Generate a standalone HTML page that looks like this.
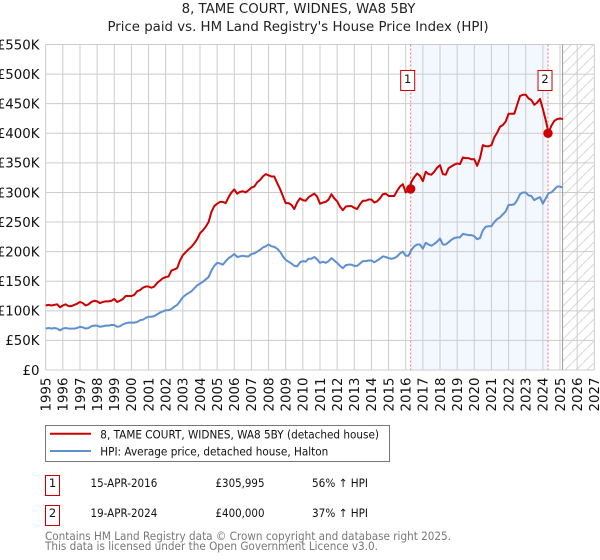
<!DOCTYPE html>
<html>
<head>
<meta charset="utf-8">
<style>
html,body{margin:0;padding:0;background:#fff}
svg{display:block;font-family:"DejaVu Sans","Liberation Sans",sans-serif}
</style>
</head>
<body>
<svg id="chart" xmlns="http://www.w3.org/2000/svg" width="600" height="560" viewBox="0 0 600 560">
  <defs>
    <pattern id="hatch" patternUnits="userSpaceOnUse" width="11" height="11">
      <path d="M-1,12 L12,-1" stroke="#d8d8d8" stroke-width="1" fill="none"/>
    </pattern>
  </defs>
  <rect width="600" height="560" fill="#fff"/>
  <text x="298.5" y="13" font-size="13.33" text-anchor="middle" fill="#222">8, TAME COURT, WIDNES, WA8 5BY</text>
  <text x="298" y="31" font-size="13.33" text-anchor="middle" fill="#222">Price paid vs. HM Land Registry's House Price Index (HPI)</text>
  <g id="plot"></g>

  <g>
    <rect x="45.5" y="425.5" width="344" height="36" fill="#fff" stroke="#777" stroke-width="1"/>
    <line x1="50" x2="91" y1="433.8" y2="433.8" stroke="#cc0000" stroke-width="2"/>
    <text x="100.3" y="438.5" font-size="11.5" fill="#111" textLength="278.7" lengthAdjust="spacingAndGlyphs">8, TAME COURT, WIDNES, WA8 5BY (detached house)</text>
    <line x1="50" x2="91" y1="451" y2="451" stroke="#5e8fd0" stroke-width="2"/>
    <text x="100.3" y="455.5" font-size="11.5" fill="#111" textLength="228" lengthAdjust="spacingAndGlyphs">HPI: Average price, detached house, Halton</text>
  </g>

  <g font-size="11.5" fill="#111">
    <rect x="45.5" y="475.5" width="14" height="20" fill="#fff" stroke="#cc0000" stroke-width="1"/>
    <text x="52.5" y="487" text-anchor="middle">1</text>
    <text x="90.5" y="487" textLength="66.8" lengthAdjust="spacingAndGlyphs">15-APR-2016</text>
    <text x="215.5" y="487" textLength="49" lengthAdjust="spacingAndGlyphs">£305,995</text>
    <text x="312" y="487" textLength="56" lengthAdjust="spacingAndGlyphs">56% ↑ HPI</text>
    <rect x="45.5" y="505.5" width="14" height="20" fill="#fff" stroke="#cc0000" stroke-width="1"/>
    <text x="52.5" y="517" text-anchor="middle">2</text>
    <text x="90.5" y="517" textLength="66.8" lengthAdjust="spacingAndGlyphs">19-APR-2024</text>
    <text x="215.5" y="517" textLength="49" lengthAdjust="spacingAndGlyphs">£400,000</text>
    <text x="312" y="517" textLength="56" lengthAdjust="spacingAndGlyphs">37% ↑ HPI</text>
  </g>

  <text x="45" y="540" font-size="11.5" fill="#777" textLength="406" lengthAdjust="spacingAndGlyphs">Contains HM Land Registry data © Crown copyright and database right 2025.</text>
  <text x="45" y="550" font-size="11.5" fill="#777" textLength="333" lengthAdjust="spacingAndGlyphs">This data is licensed under the Open Government Licence v3.0.</text>
</svg>

<script>
// Chart data (values in £ thousands, sampled six times a year from 1995)
var yTickValues = [0, 50, 100, 150, 200, 250, 300, 350, 400, 450, 500, 550];
var yTickLabels = ['£0', '£50K', '£100K', '£150K', '£200K', '£250K', '£300K', '£350K', '£400K', '£450K', '£500K', '£550K'];
var xTickYears = [1995, 1996, 1997, 1998, 1999, 2000, 2001, 2002, 2003, 2004, 2005, 2006, 2007, 2008, 2009, 2010, 2011, 2012, 2013, 2014, 2015, 2016, 2017, 2018, 2019, 2020, 2021, 2022, 2023, 2024, 2025, 2026, 2027];
var seriesStartYear = 1995;
var samplesPerYear = 6;
var propertySeries = [
  109, 110, 109, 110, 111, 106,
  109, 111, 108, 108, 110, 112,
  115, 113, 109, 111, 115, 117,
  116, 113, 115, 116, 116, 117,
  120, 115, 117, 120, 125, 125,
  125, 127, 133, 135, 139, 141,
  141, 139, 141, 147, 151, 155,
  157, 158, 168, 170, 172, 185,
  194, 199, 204, 208, 214, 221,
  231, 236, 242, 250, 267, 277,
  281, 284, 284, 282, 292, 300,
  305, 298, 301, 302, 300, 304,
  308, 310, 317, 321, 327, 331,
  329, 327, 327, 316, 306, 294,
  282, 282, 279, 272, 283, 290,
  287, 286, 292, 295, 298, 293,
  281, 283, 284, 288, 297, 290,
  285, 276, 270, 276, 277, 277,
  274, 272, 280, 286, 286, 288,
  288, 283, 285, 290, 297, 298,
  294, 294, 294, 303, 310, 314,
  300, 303, 318, 326, 332, 328,
  319, 335, 331, 330, 335, 342,
  346, 331, 330, 341, 344, 347,
  349, 348, 359, 358, 358, 356,
  356, 345, 358, 380, 378, 378,
  380, 393, 401, 411, 414, 420,
  433, 433, 433, 448, 463, 465,
  465, 459, 456, 448, 452, 458,
  441, 422, 401, 413, 421, 424,
  425, 424
];
var hpiSeries = [
  70, 71, 70, 71, 70, 67,
  70, 71, 70, 70, 70, 71,
  73, 72, 70, 71, 74, 75,
  75, 73, 74, 75, 75, 76,
  76, 73, 74, 77, 79, 80,
  80, 80, 81, 84, 85, 88,
  90, 90, 91, 94, 97, 99,
  101, 101, 103, 107, 110, 116,
  123, 127, 130, 133, 138, 143,
  146, 149, 153, 157, 168, 176,
  181, 180, 178, 184, 189, 192,
  196, 191, 192, 193, 192, 192,
  196, 197, 200, 203, 207, 209,
  212, 209, 208, 205, 200, 192,
  186, 183, 180, 176, 175, 182,
  184, 183, 188, 188, 191, 187,
  181, 183, 181, 184, 189, 185,
  181, 176, 172, 177, 178, 178,
  176, 176, 180, 184, 184, 185,
  185, 182, 185, 188, 192, 191,
  189, 188, 189, 192, 197, 200,
  193, 193, 203, 209, 212, 212,
  205, 215, 212, 210, 213, 217,
  222, 212, 212, 216, 220, 223,
  224, 224, 230, 229, 228, 228,
  226, 221, 223, 236, 242, 243,
  243, 250, 255, 258, 263, 268,
  279, 279, 280, 287, 297, 300,
  300, 295, 294, 287, 290, 292,
  281, 290, 299, 300, 305, 310,
  310, 308
];
var saleYears = [2016.29, 2024.3];
var salePrices = [305.995, 400];
var saleLabels = ['1', '2'];
var forecastStartYear = 2025.15;

var NS = 'http://www.w3.org/2000/svg';
var plot = document.getElementById('plot');
var plotLeft = 45.7, plotRight = 594.3, plotTop = 44.5, plotBottom = 370;
function xScale(year) { return plotLeft + (year - 1995) * (plotRight - plotLeft) / 32; }
function yScale(value) { return plotBottom - value * (plotBottom - plotTop) / 550; }
function make(tag, attrs) {
  var el = document.createElementNS(NS, tag);
  for (var k in attrs) el.setAttribute(k, attrs[k]);
  plot.appendChild(el);
  return el;
}
function linePath(values) {
  var d = '';
  for (var i = 0; i < values.length; i++) {
    var yr = seriesStartYear + i / samplesPerYear;
    d += (i ? 'L' : 'M') + xScale(yr).toFixed(2) + ',' + yScale(values[i]).toFixed(2);
  }
  return d;
}

var shade = make('rect', {x: xScale(saleYears[0]), y: plotTop, width: xScale(saleYears[1]) - xScale(saleYears[0]), height: plotBottom - plotTop, fill: '#f3f7fe'});



var hatch = make('rect', {x: xScale(forecastStartYear), y: plotTop, width: plotRight - xScale(forecastStartYear), height: plotBottom - plotTop, fill: 'url(#hatch)'});



yTickValues.forEach(function (v, i) {
  var g = make('line', {x1: plotLeft, x2: plotRight, y1: yScale(v), y2: yScale(v), stroke: '#cccccc', 'stroke-width': 1});
  
  
  var t = make('text', {x: 39.5, y: yScale(v) + 4.8, 'font-size': 13.33, 'text-anchor': 'end', fill: '#111'});
  t.textContent = yTickLabels[i];
  
  
});

xTickYears.forEach(function (yr) {
  var x = xScale(yr);
  var g = make('line', {x1: x, x2: x, y1: plotTop, y2: plotBottom, stroke: '#cccccc', 'stroke-width': 1});
  
  
  var t = make('text', {transform: 'translate(' + (x + 4.8) + ',411.5) rotate(-90)', 'font-size': 13.33, fill: '#111'});
  t.textContent = String(yr);
  
  
});

var endLine = make('line', {x1: xScale(forecastStartYear), x2: xScale(forecastStartYear), y1: plotTop, y2: plotBottom, stroke: '#999999', 'stroke-width': 1});



saleYears.forEach(function (yr) {
  var l = make('line', {x1: xScale(yr), x2: xScale(yr), y1: plotTop, y2: plotBottom, stroke: '#ff6b7d', 'stroke-width': 1, 'stroke-dasharray': '2,2'});
  
  
});

var hpiLine = make('path', {d: linePath(hpiSeries), fill: 'none', stroke: '#5e8fd0', 'stroke-width': 2, 'stroke-linejoin': 'round'});



var propLine = make('path', {d: linePath(propertySeries), fill: 'none', stroke: '#cc0000', 'stroke-width': 2, 'stroke-linejoin': 'round'});



saleYears.forEach(function (yr, i) {
  var cx = xScale(yr), cy = yScale(salePrices[i]);
  var m = make('circle', {cx: cx, cy: cy, r: 4.7, fill: '#cc0000'});
  
  
  var b = make('rect', {x: cx - 10, y: 70.5, width: 14, height: 20, fill: '#fff', stroke: '#cc0000', 'stroke-width': 1});
  
  
  var t = make('text', {x: cx - 3, y: 83, 'font-size': 11.5, 'text-anchor': 'middle', fill: '#111'});
  t.textContent = saleLabels[i];
  
  
});
</script>
</body>
</html>
